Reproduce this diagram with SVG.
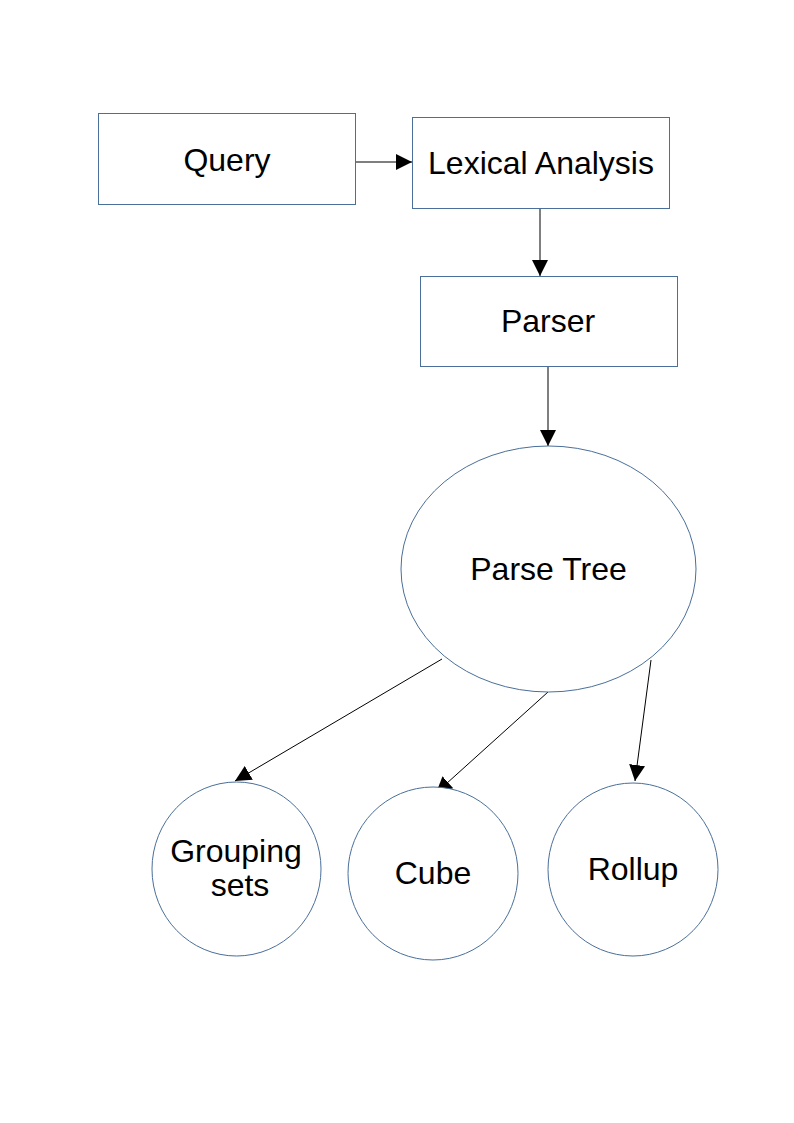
<svg xmlns="http://www.w3.org/2000/svg" width="794" height="1123" viewBox="0 0 794 1123">
<style>
.box{fill:#ffffff;stroke:#4a6f9a;stroke-width:1}
.lbl{font-family:"Liberation Sans",Arial,sans-serif;font-size:32px;fill:#000000;text-anchor:middle}
.edge{stroke:#000000;stroke-width:1;fill:none}
.edge2{stroke:#555555;stroke-width:1.5;fill:none}
</style>
<defs>
<marker id="ah" viewBox="0 0 10 10" refX="10" refY="5" markerWidth="16" markerHeight="16" markerUnits="userSpaceOnUse" orient="auto">
<path d="M0,0 L10,5 L0,10 Z" fill="#000000"/>
</marker>
</defs>
<rect width="794" height="1123" fill="#ffffff"/>
<g id="connectors">
<line class="edge2" x1="356" y1="162" x2="412" y2="162" marker-end="url(#ah)"/>
<line class="edge2" x1="540" y1="208" x2="540" y2="276" marker-end="url(#ah)"/>
<line class="edge" x1="548" y1="366" x2="548" y2="446" marker-end="url(#ah)"/>
<line class="edge" x1="442" y1="659" x2="235" y2="781" marker-end="url(#ah)"/>
<line class="edge" x1="548" y1="692" x2="436" y2="793" marker-end="url(#ah)"/>
<line class="edge" x1="651" y1="660" x2="635" y2="781" marker-end="url(#ah)"/>
</g>
<g id="query">
<rect class="box" x="98.5" y="113.5" width="257" height="91"/>
<text class="lbl" x="227" y="171">Query</text>
</g>
<g id="lexical">
<rect class="box" x="412.5" y="117.5" width="257" height="91"/>
<text class="lbl" x="541" y="174">Lexical Analysis</text>
</g>
<g id="parser">
<rect class="box" x="420.5" y="276.5" width="257" height="90"/>
<text class="lbl" x="548" y="332">Parser</text>
</g>
<g id="parsetree">
<ellipse class="box" cx="548.5" cy="569" rx="147.5" ry="123"/>
<text class="lbl" x="548.5" y="580">Parse Tree</text>
</g>
<g id="grouping">
<ellipse class="box" cx="236.5" cy="869" rx="84.5" ry="87"/>
<text class="lbl" x="236" y="862">Grouping</text>
<text class="lbl" x="240" y="896">sets</text>
</g>
<g id="cube">
<ellipse class="box" cx="433" cy="873.5" rx="85" ry="86.5"/>
<text class="lbl" x="433" y="884">Cube</text>
</g>
<g id="rollup">
<ellipse class="box" cx="633" cy="869.5" rx="85" ry="86.5"/>
<text class="lbl" x="633" y="880">Rollup</text>
</g>
</svg>
